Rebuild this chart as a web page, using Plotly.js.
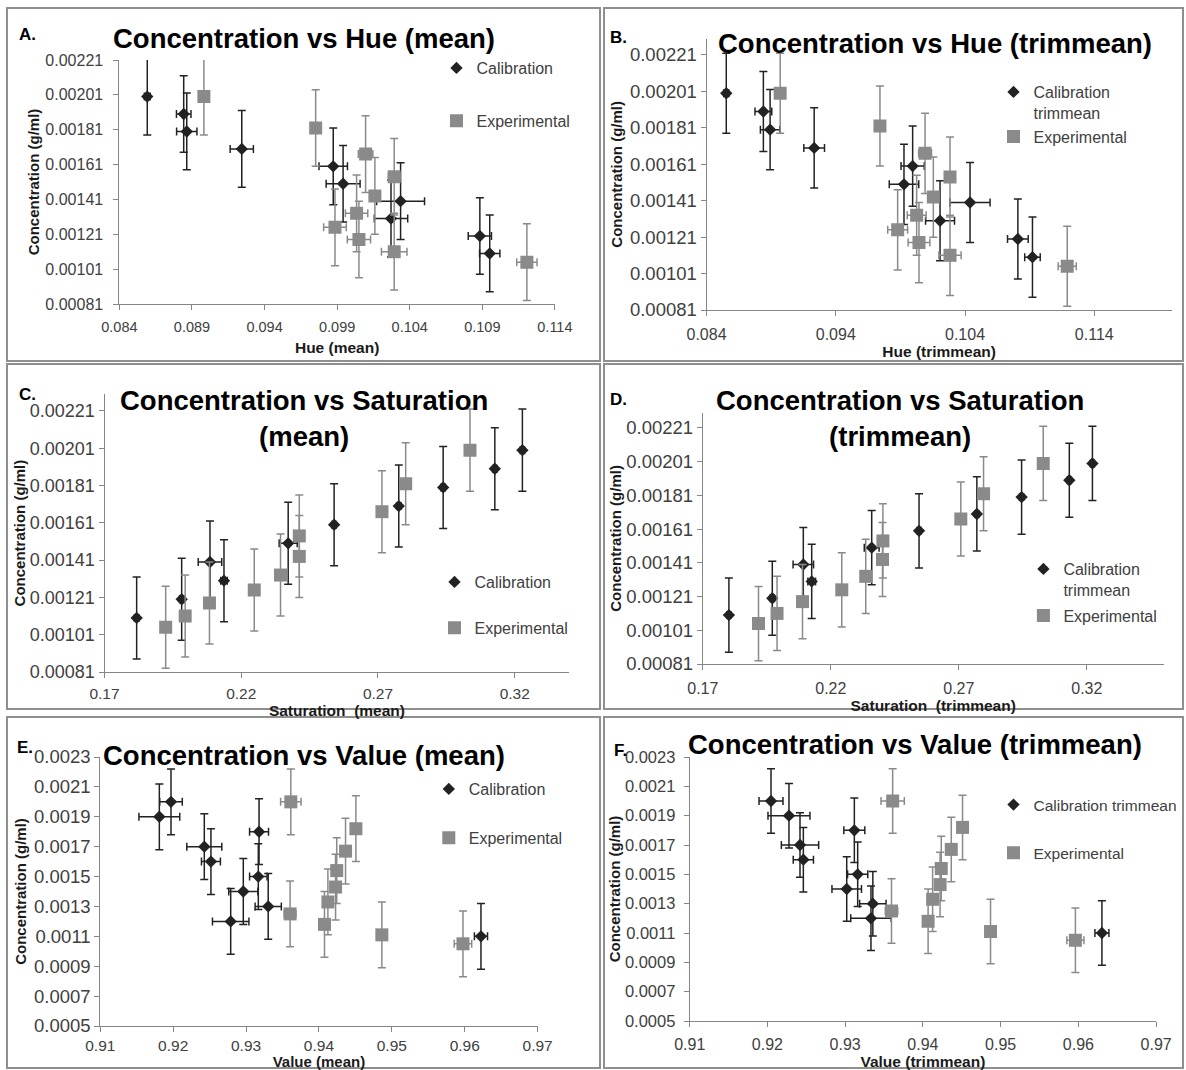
<!DOCTYPE html>
<html><head><meta charset="utf-8">
<script src="https://cdn.plot.ly/plotly-3.0.1.min.js"></script>
<style>html,body{margin:0;padding:0;background:#fff}#chart{width:1186px;height:1070px}</style>
</head><body><div id="chart"></div>
<script>
// ---------------- data ----------------
const calConc = [0.0011, 0.0012, 0.0013, 0.0014, 0.0015, 0.0016, 0.0017, 0.0018, 0.0019, 0.0020];
const expConc = [0.00105, 0.00111, 0.00118, 0.00125, 0.00133, 0.00143, 0.00154, 0.00167, 0.00182, 0.0020];
const concErr = 0.00022;

const hueMeanCal    = [0.10951, 0.10883, 0.10271, 0.10337, 0.09941, 0.09873, 0.09243, 0.08864, 0.08843, 0.08592];
const hueMeanCalErr = [0.0007, 0.0008, 0.00115, 0.00165, 0.00117, 0.00098, 0.0008, 0.0007, 0.0005, 0.0002];
const hueMeanExp    = [0.11207, 0.10293, 0.1005, 0.09885, 0.10034, 0.1016, 0.10293, 0.10096, 0.09752, 0.08982];
const hueMeanExpErr = [0.0007, 0.00088, 0.0008, 0.00078, 0.00077, 0.0003, 0.0004, 0.0005, 0.0003, 0.0003];

const hueTrimCal    = [0.10922, 0.10809, 0.10207, 0.10439, 0.09928, 0.09995, 0.09233, 0.08892, 0.0884, 0.08553];
const hueTrimCalErr = [0.0006, 0.0008, 0.00112, 0.00155, 0.00114, 0.0009, 0.0008, 0.00075, 0.00065, 0.0002];
const hueTrimExp    = [0.11191, 0.10284, 0.10044, 0.09879, 0.10026, 0.10155, 0.10284, 0.10091, 0.09742, 0.0897];
const hueTrimExpErr = [0.0007, 0.00086, 0.00084, 0.00077, 0.00073, 0.0003, 0.0003, 0.0005, 0.0003, 0.0003];

const satMeanCal    = [0.18176, 0.19822, 0.21369, 0.20857, 0.23717, 0.25396, 0.27761, 0.29384, 0.31273, 0.32281];
const satMeanCalErr = [0.0008, 0.0008, 0.0012, 0.0043, 0.0033, 0.0008, 0.0008, 0.0008, 0.0008, 0.0008];
const satMeanExp    = [0.19237, 0.1995, 0.20838, 0.22476, 0.23437, 0.24123, 0.24123, 0.27145, 0.28013, 0.30364];
const satMeanExpErr = [0.0008, 0.0008, 0.0008, 0.0008, 0.0008, 0.0008, 0.0008, 0.0008, 0.001, 0.0012];

const satTrimCal    = [0.1802, 0.19715, 0.21254, 0.20926, 0.23598, 0.25447, 0.27705, 0.29453, 0.31317, 0.3222];
const satTrimCalErr = [0.0008, 0.0008, 0.0015, 0.004, 0.0029, 0.0008, 0.0008, 0.0008, 0.0008, 0.0008];
const satTrimExp    = [0.19176, 0.199, 0.20895, 0.22429, 0.23365, 0.2402, 0.24035, 0.27079, 0.27967, 0.30298];
const satTrimExpErr = [0.0008, 0.0008, 0.0008, 0.0008, 0.0008, 0.0008, 0.0008, 0.0008, 0.001, 0.0012];

const valMeanCal    = [0.96223, 0.92789, 0.93304, 0.92962, 0.93168, 0.92518, 0.92427, 0.93178, 0.9181, 0.9197];
const valMeanCalErr = [0.0009, 0.0025, 0.0018, 0.002, 0.0012, 0.0013, 0.0024, 0.0013, 0.0028, 0.00155];
const valMeanExp    = [0.95976, 0.94863, 0.94076, 0.93604, 0.94123, 0.94228, 0.94244, 0.94365, 0.94507, 0.93614];
const valMeanExpErr = [0.0012, 0.0004, 0.0006, 0.0008, 0.0005, 0.0004, 0.0004, 0.0004, 0.0006, 0.0014];

const valTrimCal    = [0.96303, 0.93332, 0.93356, 0.9302, 0.93161, 0.92462, 0.92419, 0.93118, 0.92277, 0.92046];
const valTrimCalErr = [0.0009, 0.0026, 0.0017, 0.0019, 0.0013, 0.0013, 0.0024, 0.00135, 0.0027, 0.00154];
const valTrimExp    = [0.95962, 0.9487, 0.94067, 0.93596, 0.94125, 0.94221, 0.94236, 0.94365, 0.9451, 0.93611];
const valTrimExpErr = [0.0011, 0.0004, 0.0006, 0.0008, 0.0005, 0.0004, 0.0004, 0.0004, 0.0006, 0.0015];

// tick labels
const concTicksHS   = ['0.00081','0.00101','0.00121','0.00141','0.00161','0.00181','0.00201','0.00221'];
const concTicksV    = ['0.0005','0.0007','0.0009','0.0011','0.0013','0.0015','0.0017','0.0019','0.0021','0.0023'];
const hueMeanTicks  = ['0.084','0.089','0.094','0.099','0.104','0.109','0.114'];
const hueTrimTicks  = ['0.084','0.094','0.104','0.114'];
const satTicks      = ['0.17','0.22','0.27','0.32'];
const valTicks      = ['0.91','0.92','0.93','0.94','0.95','0.96','0.97'];

// ---------------- layout helpers ----------------
const W = 1186, H = 1070;
const px = v => v / W;
const py = v => 1 - v / H;
const FONT = 'Liberation Sans, Arial, sans-serif';
const CAL_COLOR = '#222222', EXP_COLOR = '#8a8a8a', AXIS_COLOR = '#868686';

const panels = [
  {id:'', letter:'A.', title:'Concentration vs Hue (mean)', xt:'Hue (mean)',
   cal:hueMeanCal, calErr:hueMeanCalErr, exp:hueMeanExp, expErr:hueMeanExpErr, calName:'Calibration',
   xbox:[119.4,554.9], xr:[0.084,0.114], ybox:[60,304], yr:[0.00221,0.00081],
   xticks:hueMeanTicks, yticks:concTicksHS, xfs:14.5, yfs:16, xtfs:15.5,
   xls:5, xts:7, yls:7, yts:2,
   titlePos:[304,39], letterPos:[27,34], leg:[436.5,51,29]},
  {id:'2', letter:'B.', title:'Concentration vs Hue (trimmean)', xt:'Hue (trimmean)',
   cal:hueTrimCal, calErr:hueTrimCalErr, exp:hueTrimExp, expErr:hueTrimExpErr, calName:'Calibration<br>trimmean',
   xbox:[706.5,1171.8], xr:[0.084,0.12], ybox:[38.6,310], yr:[0.0023,0.00081],
   xticks:hueTrimTicks, yticks:concTicksHS, xfs:16, yfs:18.5, xtfs:15.5,
   xls:5, xts:2, yls:0, yts:3,
   titlePos:[934.5,43], letterPos:[618,38], leg:[993.5,75,0]},
  {id:'3', letter:'C.', title:'Concentration vs Saturation<br>(mean)', xt:'Saturation  (mean)',
   cal:satMeanCal, calErr:satMeanCalErr, exp:satMeanExp, expErr:satMeanExpErr, calName:'Calibration',
   xbox:[104.5,569.4], xr:[0.17,0.34], ybox:[394.2,672], yr:[0.0023,0.00081],
   xticks:satTicks, yticks:concTicksHS, xfs:15.5, yfs:18, xtfs:15.5,
   xls:2, xts:0, yls:0, yts:0,
   titlePos:[304,418], letterPos:[27,394], leg:[434.5,565,22]},
  {id:'4', letter:'D.', title:'Concentration vs Saturation<br>(trimmean)', xt:'Saturation  (trimmean)',
   cal:satTrimCal, calErr:satTrimCalErr, exp:satTrimExp, expErr:satTrimExpErr, calName:'Calibration<br>trimmean',
   xbox:[702.8,1163.6], xr:[0.17,0.35], ybox:[412.8,664], yr:[0.0023,0.00081],
   xticks:satTicks, yticks:concTicksHS, xfs:16, yfs:18.5, xtfs:15.5,
   xls:5, xts:2, yls:0, yts:0,
   titlePos:[900,418], letterPos:[619,399], leg:[1023.4,552,2]},
  {id:'5', letter:'E.', title:'Concentration vs Value (mean)', xt:'Value (mean)',
   cal:valMeanCal, calErr:valMeanCalErr, exp:valMeanExp, expErr:valMeanExpErr, calName:'Calibration',
   xbox:[100.3,537.6], xr:[0.91,0.97], ybox:[757,1026], yr:[0.0023,0.0005],
   xticks:valTicks, yticks:concTicksV, xfs:15.5, yfs:18.5, xtfs:15,
   xls:0, xts:0, yls:0, yts:3,
   titlePos:[304,755], letterPos:[25,747], leg:[428.8,772,25]},
  {id:'6', letter:'F.', title:'Concentration vs Value (trimmean)', xt:'Value (trimmean)',
   cal:valTrimCal, calErr:valTrimCalErr, exp:valTrimExp, expErr:valTrimExpErr, calName:'Calibration trimmean',
   xbox:[689.7,1156.1], xr:[0.91,0.97], ybox:[757,1021], yr:[0.0023,0.0005],
   xticks:valTicks, yticks:concTicksV, xfs:16, yfs:16.5, xtfs:15.5,
   xls:4, xts:1, yls:5, yts:0,
   titlePos:[915,744], letterPos:[620,750], leg:[993.5,788,25], legFs:15.5}
];

const borders = [
  [7,600,8,361],[604,1183,8,361],
  [7,600,364,709],[604,1183,364,709],
  [7,600,717,1068],[604,1183,717,1068]
];

const traces = [];
const layout = {
  width: W, height: H, margin:{l:0,r:0,t:0,b:0},
  paper_bgcolor:'#ffffff', plot_bgcolor:'rgba(0,0,0,0)',
  font:{family:FONT, color:'#404040'},
  annotations:[], shapes:[]
};

borders.forEach(b => layout.shapes.push({
  type:'rect', xref:'paper', yref:'paper', x0:px(b[0]), x1:px(b[1]), y0:py(b[3]), y1:py(b[2]),
  line:{color:'#8f8f8f', width:2}, fillcolor:'rgba(0,0,0,0)', layer:'below'
}));

panels.forEach((p, i) => {
  const xa = 'x' + p.id, ya = 'y' + p.id;
  const lg = i === 0 ? 'legend' : 'legend' + (i + 1);
  traces.push({
    type:'scatter', mode:'markers', x:p.cal, y:calConc, xaxis:xa, yaxis:ya,
    name:p.calName, legend:lg, legendgroup:lg + 'cal', cliponaxis:true,
    marker:{symbol:'diamond', size:9.5, color:CAL_COLOR},
    error_x:{type:'data', array:p.calErr, visible:true, color:CAL_COLOR, thickness:1.5, width:4},
    error_y:{type:'constant', value:concErr, visible:true, color:CAL_COLOR, thickness:1.5, width:4}
  });
  traces.push({
    type:'scatter', mode:'markers', x:p.exp, y:expConc, xaxis:xa, yaxis:ya,
    name:'Experimental', legend:lg, legendgroup:lg + 'exp', cliponaxis:true,
    marker:{symbol:'square', size:13, color:EXP_COLOR},
    error_x:{type:'data', array:p.expErr, visible:true, color:EXP_COLOR, thickness:1.5, width:4},
    error_y:{type:'constant', value:concErr, visible:true, color:EXP_COLOR, thickness:1.5, width:4}
  });

  const xk = 'xaxis' + p.id, yk = 'yaxis' + p.id;
  layout[xk] = {
    domain:[px(p.xbox[0]), px(p.xbox[1])], range:p.xr, anchor:ya,
    tickmode:'array', tickvals:p.xticks.map(Number), ticktext:p.xticks,
    showline:true, linecolor:AXIS_COLOR, linewidth:1, ticks:'outside', ticklen:5, tickcolor:AXIS_COLOR,
    ticklabelstandoff:p.xls,
    showgrid:false, zeroline:false, automargin:false, fixedrange:true,
    tickfont:{size:p.xfs, color:'#404040', family:FONT},
    title:{text:'<b>' + p.xt + '</b>', font:{size:p.xtfs, color:'#1a1a1a', family:FONT}, standoff:p.xts}
  };
  layout[yk] = {
    domain:[py(p.ybox[1]), py(p.ybox[0])], range:[p.yr[1], p.yr[0]], anchor:xa,
    tickmode:'array', tickvals:p.yticks.map(Number), ticktext:p.yticks,
    showline:true, linecolor:AXIS_COLOR, linewidth:1, ticks:'outside', ticklen:5, tickcolor:AXIS_COLOR,
    ticklabelstandoff:p.yls,
    showgrid:false, zeroline:false, automargin:false, fixedrange:true,
    tickfont:{size:p.yfs, color:'#404040', family:FONT},
    title:{text:'<b>Concentration (g/ml)</b>', font:{size:15, color:'#1a1a1a', family:FONT}, standoff:p.yts}
  };
  layout[lg] = {
    x:px(p.leg[0]), y:py(p.leg[1]), xanchor:'left', yanchor:'top',
    bgcolor:'rgba(0,0,0,0)', borderwidth:0, tracegroupgap:p.leg[2], valign:'top',
    font:{size:p.legFs || 16, color:'#404040', family:FONT}
  };
  layout.annotations.push({
    xref:'paper', yref:'paper', x:px(p.titlePos[0]), y:py(p.titlePos[1]),
    xanchor:'center', yanchor:'middle', showarrow:false, align:'center',
    text:'<b>' + p.title + '</b>', font:{size:27.5, color:'#000000', family:FONT}
  });
  layout.annotations.push({
    xref:'paper', yref:'paper', x:px(p.letterPos[0]), y:py(p.letterPos[1]),
    xanchor:'center', yanchor:'middle', showarrow:false,
    text:'<b>' + p.letter + '</b>', font:{size:17, color:'#000000', family:FONT}
  });
});

Plotly.newPlot('chart', traces, layout, {displayModeBar:false, staticPlot:true});
</script>
</body></html>
